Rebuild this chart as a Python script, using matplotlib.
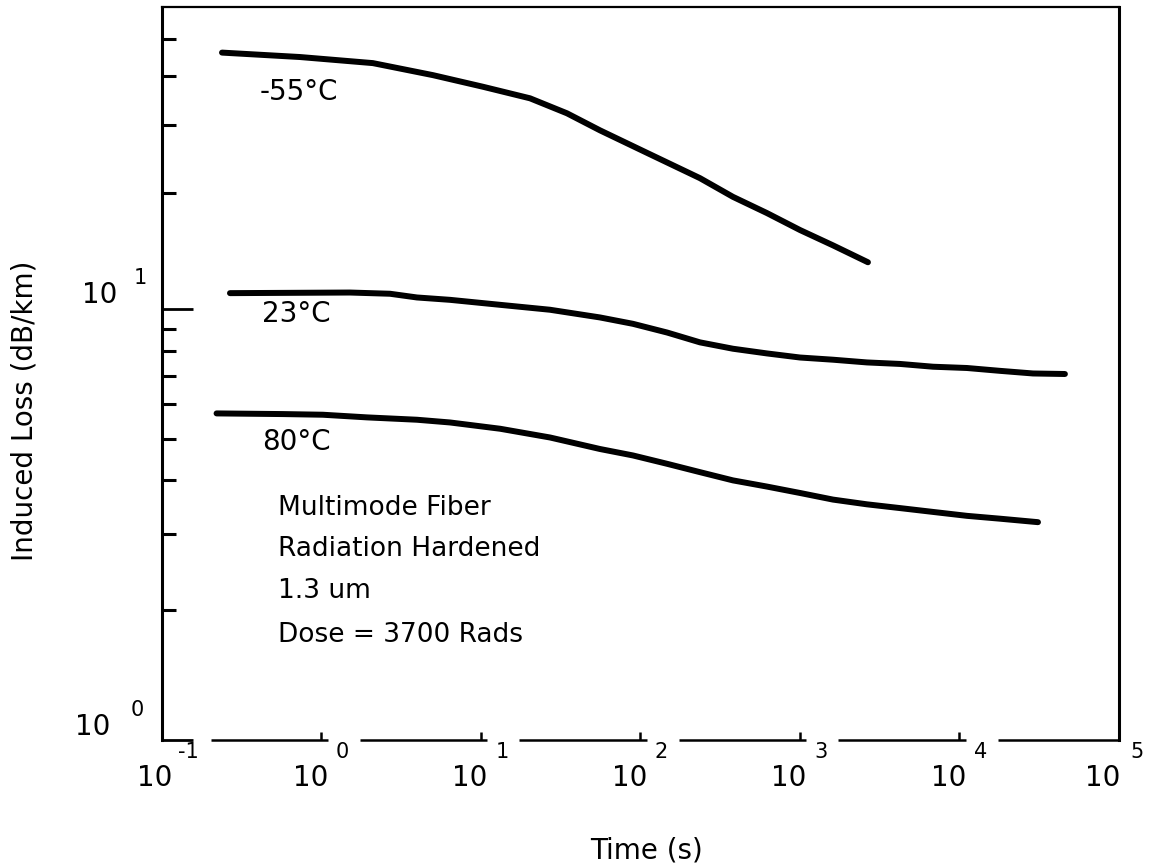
import numpy as np
import matplotlib
matplotlib.use('Agg')
from matplotlib import pyplot as plt
from matplotlib import transforms

# induced loss curves (time in s, loss in dB/km)
t_m55 = [0.238, 0.733, 2.10, 5.0, 10.3, 20.3, 34.6, 55.7, 111, 236, 380, 621,
         1000, 1611, 2667]
loss_m55 = [46.1, 44.9, 43.3, 40.3, 37.6, 35.1, 32.1, 29.0, 25.3, 21.8, 19.5,
            17.7, 16.0, 14.6, 13.2]

t_23 = [0.267, 1.51, 2.69, 3.97, 6.4, 13.2, 27.1, 55.7, 89.7, 147, 236, 380,
        621, 1000, 1611, 2630, 4236, 6823, 11140, 17950, 28900, 45800]
loss_23 = [10.98, 11.02, 10.94, 10.70, 10.55, 10.24, 9.95, 9.55, 9.23, 8.81,
           8.36, 8.08, 7.88, 7.71, 7.62, 7.51, 7.45, 7.34, 7.29, 7.18, 7.08,
           7.06]

t_80 = [0.220, 0.574, 1.02, 1.93, 3.97, 6.4, 13.2, 27.1, 55.7, 89.7, 147, 236,
        380, 621, 1000, 1611, 2630, 4236, 6823, 11140, 17950, 31050]
loss_80 = [5.72, 5.70, 5.68, 5.60, 5.53, 5.45, 5.27, 5.03, 4.73, 4.57, 4.37,
           4.18, 4.0, 3.87, 3.74, 3.61, 3.52, 3.45, 3.38, 3.31, 3.26, 3.20]

curve_labels = ['-55°C', '23°C', '80°C']
label_pos = [(0.41, 36.4), (0.424, 9.73), (0.424, 4.90)]

notes = ['Multimode Fiber', 'Radiation Hardened', '1.3 um', 'Dose = 3700 Rads']
notes_y = [3.46, 2.77, 2.21, 1.75]

x_decades = [-1, 0, 1, 2, 3, 4, 5]
y_decades = [0, 1]
y_minor = [2, 3, 4, 5, 6, 7, 8, 9, 20, 30, 40, 50]

# the upper decade of the original y axis is drawn a bit shorter than the lower one
UPPER = 385 / 430


def fwd(y):
    ly = np.log10(np.clip(y, 1e-300, None))
    return np.where(ly > 1, 1 + (ly - 1) * UPPER, ly)


def inv(v):
    v = np.asarray(v, dtype=float)
    return np.where(v > 1, 10 ** (1 + (v - 1) / UPPER), 10 ** v)


FS = 20
fig = plt.figure(figsize=(11.51, 8.68), dpi=100)
ax = fig.add_axes([0.1407, 0.1475, 0.9722 - 0.1407, 0.9919 - 0.1475])
ax.set_xscale('log')
ax.set_yscale('function', functions=(fwd, inv))
ax.set_xlim(1e-1, 1e5)
ax.set_ylim(1, 60.5)

for t, l in [(t_m55, loss_m55), (t_23, loss_23), (t_80, loss_80)]:
    ax.plot(t, l, color='black', lw=4.3, solid_capstyle='round')

for txt, (x, y) in zip(curve_labels, label_pos):
    ax.text(x, y, txt, fontsize=FS, ha='left', va='center')

for txt, y in zip(notes, notes_y):
    ax.text(0.535, y, txt, fontsize=FS - 1, ha='left', va='center')

# spines
for s in ['left', 'top', 'right']:
    ax.spines[s].set_linewidth(2.2)
ax.spines['top'].set_linewidth(1.6)
ax.spines['bottom'].set_visible(False)

# broken bottom axis, one piece per decade
xt = ax.get_xaxis_transform()
for k in range(-1, 5):
    start = k + (0.31 if k == -1 else 0.24)
    end = 5 if k == 4 else k + 1.04
    ax.plot([10 ** start, 10 ** end], [0, 0], color='black', lw=1.8,
            transform=xt, clip_on=False, solid_capstyle='butt')

ax.set_xticks([1, 10, 100, 1e3, 1e4])
ax.set_xticklabels([])
ax.xaxis.set_minor_locator(matplotlib.ticker.NullLocator())
ax.tick_params(axis='x', which='major', direction='in', length=6, width=1.8)

ax.yaxis.set_major_locator(matplotlib.ticker.FixedLocator([1, 10]))
ax.yaxis.set_minor_locator(matplotlib.ticker.FixedLocator(y_minor))
ax.yaxis.set_major_formatter(matplotlib.ticker.NullFormatter())
ax.yaxis.set_minor_formatter(matplotlib.ticker.NullFormatter())
ax.tick_params(axis='y', which='major', direction='in', length=22, width=2.0)
ax.tick_params(axis='y', which='minor', direction='in', length=10, width=2.2)

# decade labels written as "10" plus a raised exponent
x_off = {-1: (-7, 26), 5: (-16, 18)}
for k in x_decades:
    d10, dexp = x_off.get(k, (-11, 21))
    tr = transforms.offset_copy(xt, fig=fig, x=d10, y=-38, units='dots')
    ax.text(10.0 ** k, 0, '10', transform=tr, fontsize=FS, ha='center',
            va='center')
    tr = transforms.offset_copy(xt, fig=fig, x=dexp, y=-12, units='dots')
    ax.text(10.0 ** k, 0, str(k), transform=tr, fontsize=FS - 5,
            ha='center', va='center')

yt = ax.get_yaxis_transform()
y_off = {0: (-69, -25, 13, 30), 1: (-62, -22, 14, 31)}
for k in y_decades:
    d10, dexp, dy10, dyexp = y_off[k]
    tr = transforms.offset_copy(yt, fig=fig, x=d10, y=dy10, units='dots')
    ax.text(0, 10.0 ** k, '10', transform=tr, fontsize=FS, ha='center',
            va='center')
    tr = transforms.offset_copy(yt, fig=fig, x=dexp, y=dyexp, units='dots')
    ax.text(0, 10.0 ** k, str(k), transform=tr, fontsize=FS - 5,
            ha='center', va='center')

fig.text(647 / 1151, 1 - 850 / 868, 'Time (s)', fontsize=FS, ha='center',
         va='center')
fig.text(25 / 1151, 1 - 411 / 868, 'Induced Loss (dB/km)', fontsize=FS,
         ha='center', va='center', rotation=90)

fig.savefig('out.png', dpi=100)
